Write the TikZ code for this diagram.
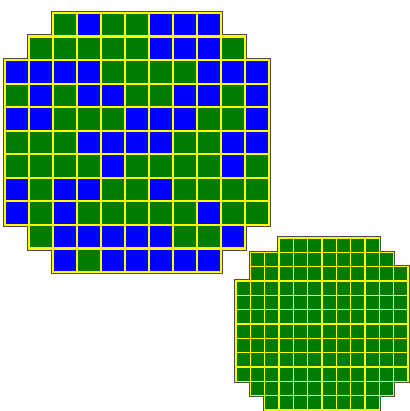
\documentclass[tikz,border=0pt]{standalone}
\usepackage{xcolor}
\definecolor{G}{HTML}{007A00}
\definecolor{B}{HTML}{0000FF}
\definecolor{gridyellow}{HTML}{FFFF00}

\begin{document}
\begin{tikzpicture}[x=1pt,y=-1pt,
 rim/.style={draw=black!70,line width=#1},
 die/.style={draw=gridyellow,line width=#1}]
\useasboundingbox (0,0) rectangle (409,411);
% die maps: row / first column / colours
\def\bigmap{0/2/{G,B,G,G,B,B,B}, 1/1/{G,G,G,G,G,B,B,B,G},
 2/0/{B,B,B,B,G,G,G,G,B,B,B}, 3/0/{G,B,G,B,B,G,G,B,B,G,B},
 4/0/{B,B,G,G,G,B,B,B,G,G,B}, 5/0/{G,G,G,B,B,B,B,G,G,B,B},
 6/0/{G,G,G,G,B,G,G,G,G,B,G}, 7/0/{B,G,B,B,G,G,B,G,G,G,G},
 8/0/{B,G,B,G,G,G,G,G,B,G,G}, 9/1/{G,B,B,B,B,B,G,G,B},
 10/2/{B,G,B,B,B,B,B}}
\def\smallmap{0/3/9, 1/1/10, 2/1/11, 3/0/11, 4/0/11, 5/0/11,
 6/0/11, 7/0/11, 8/0/11, 9/0/11, 10/1/10, 11/2/9}
% big wafer
\begin{scope}[shift={(5,13)},x=24.03pt,y=-23.54pt]
\foreach \r/\c/\dies in \bigmap
 \foreach \d [count=\i from \c] in \dies
 \path[rim=4.2pt] (\i,\r) rectangle ++(1,1);
\foreach \r/\c/\dies in \bigmap
 \foreach \d [count=\i from \c] in \dies
 \path[die=2.2pt,fill=\d] (\i,\r) rectangle ++(1,1);
\end{scope}
% small wafer
\begin{scope}[shift={(236,238)},x=14.33pt,y=-14.33pt]
\foreach \r/\a/\b in \smallmap
 \foreach \i in {\a,...,\b}
 \path[rim=3.2pt] (\i,\r) rectangle ++(1,1);
\foreach \r/\a/\b in \smallmap
 \foreach \i in {\a,...,\b}
 \path[die=1.6pt,fill=G] (\i,\r) rectangle ++(1,1);
\end{scope}
\end{tikzpicture}
\end{document}
